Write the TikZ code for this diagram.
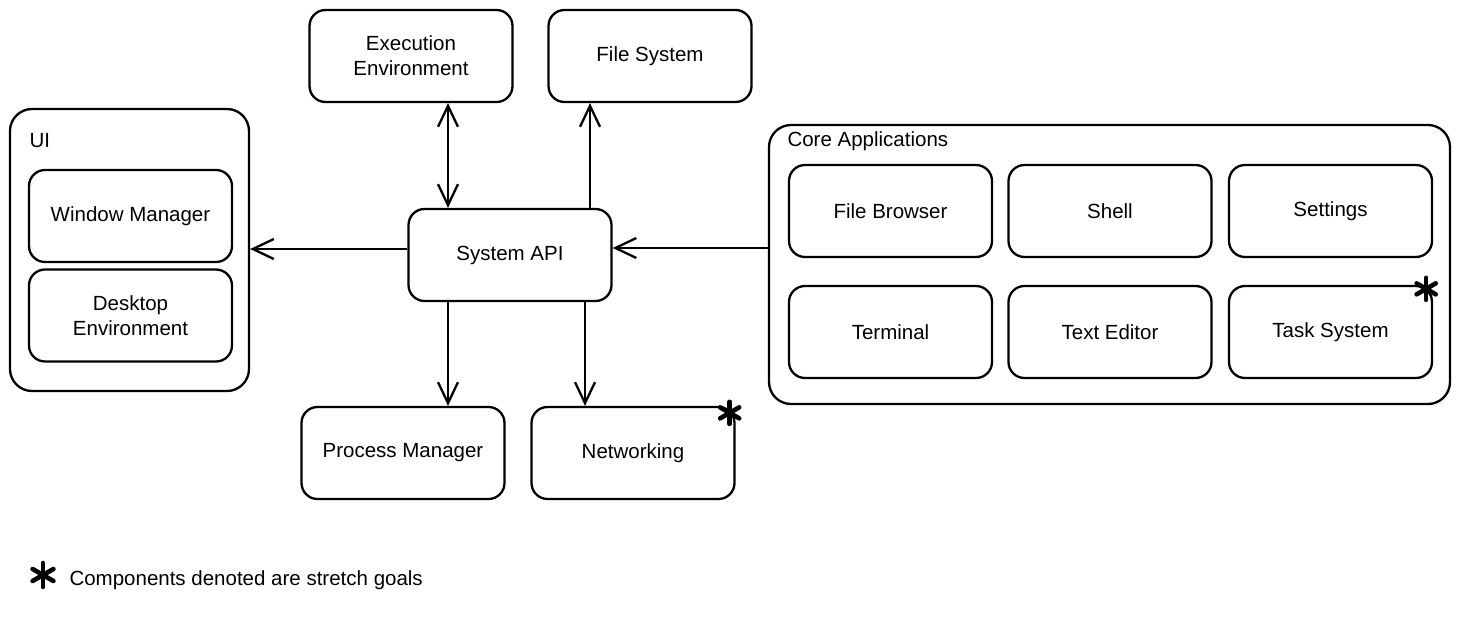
\documentclass[tikz,border=0pt]{standalone}
\usepackage{fontspec}
\setmainfont{Liberation Sans}
\usetikzlibrary{arrows.meta}

\tikzset{
  box/.style={draw, line width=2.3pt, rounded corners=16pt,
    minimum width=203pt, minimum height=92pt, align=center,
    font=\fontsize{20.5}{25}\selectfont},
  group/.style={draw, line width=2.3pt, rounded corners=22pt},
  grouplabel/.style={anchor=west, font=\fontsize{20.5}{25}\selectfont},
  link/.style={line width=2.3pt, -{Straight Barb[length=21pt,width=20pt]}},
  twolink/.style={line width=2.3pt, {Straight Barb[length=21pt,width=20pt]}-{Straight Barb[length=21pt,width=20pt]}}
}
\newcommand{\stretchmark}[2]{%
  \foreach \a in {30,90,...,330}
    \draw[line width=4.6pt, line cap=round] (#1) -- ++(\a:#2pt);}

\begin{document}
\begin{tikzpicture}[x=1pt, y=-1pt]
  \useasboundingbox (0,0) rectangle (1461,629);

  % containers
  \node[group, minimum width=239pt, minimum height=282pt] (ui) at (129.5,250) {};
  \node[grouplabel] (uilabel) at (26,141) {UI};
  \node[group, minimum width=681pt, minimum height=279pt] (core) at (1109.5,264.5) {};
  \node[grouplabel] (corelabel) at (784,141) {Core Applications};

  % top row
  \node[box] (exec) at (411,56) {Execution\\Environment};
  \node[box] (fs) at (650,56) {File System};

  % ui components
  \node[box] (wm) at (130.5,216) {Window Manager};
  \node[box] (de) at (130.5,315.5) {Desktop\\Environment};

  % centre
  \node[box] (sysapi) at (510,255) {System API};

  % bottom row
  \node[box] (proc) at (403,453) {Process Manager};
  \node[box] (net) at (633,453) {Networking};

  % applications
  \node[box] (browser) at (890.5,211) {File Browser};
  \node[box] (shell) at (1110,211) {Shell};
  \node[box] (settings) at (1330.5,211) {Settings};
  \node[box] (term) at (890.5,332) {Terminal};
  \node[box] (editor) at (1110,332) {Text Editor};
  \node[box] (task) at (1330.5,332) {Task System};

  % connectors
  \draw[twolink] ([xshift=37pt]exec.south) -- ([xshift=-62pt]sysapi.north);
  \draw[link] ([xshift=80pt]sysapi.north) -- ([xshift=80pt]sysapi.north |- fs.south);
  \draw[link] ([yshift=6pt]sysapi.west) -- ([yshift=6pt]sysapi.west -| ui.east);
  \draw[link] ([yshift=7pt]sysapi.east -| core.west) -- ([yshift=7pt]sysapi.east);
  \draw[link] ([xshift=-62pt]sysapi.south) -- ([xshift=-62pt]sysapi.south |- proc.north);
  \draw[link] ([xshift=75pt]sysapi.south) -- ([xshift=75pt]sysapi.south |- net.north);

  % stretch goals
  \coordinate (netstar) at ([xshift=-6pt,yshift=-7pt]net.north east);
  \coordinate (taskstar) at ([xshift=-7pt,yshift=-4pt]task.north east);
  \coordinate (legendstar) at (43,575);
  \stretchmark{netstar}{11}
  \stretchmark{taskstar}{11}
  \stretchmark{legendstar}{12}
  \node[anchor=west, font=\fontsize{20.5}{25}\selectfont] (legend) at (66,580) {Components denoted are stretch goals};
\end{tikzpicture}
\end{document}
